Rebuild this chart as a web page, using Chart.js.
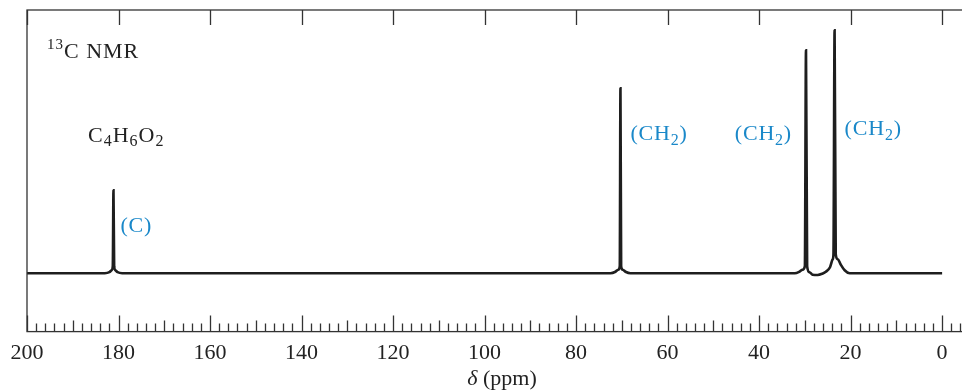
<!DOCTYPE html>
<html>
<head>
<meta charset="utf-8">
<script src="https://cdn.jsdelivr.net/npm/chart.js@4.4.1/dist/chart.umd.min.js"></script>
<style>
  html, body { margin: 0; padding: 0; background: #fff; overflow: hidden; }
  #wrap { width: 975px; height: 391px; }
</style>
</head>
<body>
<div id="wrap"><canvas id="nmr" width="975" height="391"></canvas></div>
<script>
// chemical shift (ppm) and intensity
const shifts = [200, 183.0, 182.0, 181.5, 181.25, 181.1, 180.95, 180.7, 180.2, 179.2,
  72.5, 71.4, 70.8, 70.45, 70.3, 70.15, 69.8, 69.2, 68.1,
  32.2, 31.2, 30.5, 30.0, 29.75, 29.5, 29.0, 28.3, 27.2, 26.2, 25.4, 24.5, 23.9, 23.75, 23.5,
  23.25, 22.8, 22.2, 21.3, 20.2, 0];
const intensity = [0, 0, 1, 3, 7, 83, 7, 3, 1, 0,
  0, 1.5, 3.5, 7, 185, 7, 3.5, 1.5, 0,
  0, 1.5, 3.5, 7, 223, 7, 1, -1.5, -1.8, -0.5, 1.5, 6, 14, 19, 243,
  19, 14, 9, 3, 0, 0];

const tickLabels = [200, 180, 160, 140, 120, 100, 80, 60, 40, 20, 0];

// peak labels: text, subscript, peak shift, label height
const peakText = ['(C', '(CH', '(CH', '(CH'];
const peakSub = ['', '2', '2', '2'];
const peakShift = [181.1, 70.3, 29.75, 23.5];
const peakLabelY = [48, 140, 140, 145];

const serif = '"Liberation Serif", "Times New Roman", serif';
const blue = '#1a88c9';

function drawRich(ctx, parts, x, y, align) {
  // parts: [text, size, dy]
  let w = 0;
  parts.forEach(p => { ctx.font = p[1] + 'px ' + serif; w += ctx.measureText(p[0]).width; });
  let cx = align === 'right' ? x - w : x;
  parts.forEach(p => {
    ctx.font = p[1] + 'px ' + serif;
    ctx.fillText(p[0], cx, y + p[2]);
    cx += ctx.measureText(p[0]).width;
  });
}

const decor = {
  id: 'decor',
  afterDraw(chart) {
    const ctx = chart.ctx;
    const a = chart.chartArea;
    const xs = chart.scales.x;
    const ys = chart.scales.y;
    ctx.save();
    ctx.strokeStyle = '#333';
    ctx.lineWidth = 1.3;
    ctx.strokeRect(a.left, a.top, a.right - a.left + 20, a.bottom - a.top);

    // tick marks, inside the frame
    ctx.beginPath();
    for (let v = -4; v <= 200; v += 2) {
      const px = Math.round(xs.getPixelForValue(v)) + 0.5;
      let len = 8;
      if (v % 20 === 0) len = 16; else if (v % 10 === 0) len = 11;
      ctx.moveTo(px, a.bottom);
      ctx.lineTo(px, a.bottom - len);
    }
    tickLabels.forEach(v => {
      const px = Math.round(xs.getPixelForValue(v)) + 0.5;
      ctx.moveTo(px, a.top);
      ctx.lineTo(px, a.top + 15);
    });
    ctx.stroke();

    ctx.fillStyle = '#222';
    ctx.textBaseline = 'alphabetic';
    ctx.letterSpacing = '1px';
    drawRich(ctx, [['13', 15, -9], ['C NMR', 22, 0]], 47, 58);
    drawRich(ctx, [['C', 22, 0], ['4', 16, 4], ['H', 22, 0], ['6', 16, 4], ['O', 22, 0], ['2', 16, 4]], 88, 142);

    ctx.letterSpacing = '0px';
    ctx.textAlign = 'left';
    const ax = 502;
    ctx.font = 'italic 22px ' + serif;
    const dw = ctx.measureText('δ ').width;
    ctx.font = '22px ' + serif;
    const pw = ctx.measureText('(ppm)').width;
    ctx.font = 'italic 22px ' + serif;
    ctx.fillText('δ ', ax - (dw + pw) / 2, 385);
    ctx.font = '22px ' + serif;
    ctx.fillText('(ppm)', ax - (dw + pw) / 2 + dw, 385);

    ctx.fillStyle = blue;
    ctx.letterSpacing = '0.8px';
    peakText.forEach((t, i) => {
      const px = xs.getPixelForValue(peakShift[i]);
      const py = ys.getPixelForValue(peakLabelY[i]) + 7;
      const parts = [[t, 22, 0]];
      if (peakSub[i]) parts.push([peakSub[i], 16, 5]);
      parts.push([')', 22, 0]);
      if (i === 2) drawRich(ctx, parts, px - 14, py, 'right');
      else drawRich(ctx, parts, px + (i === 0 ? 7 : 10), py, 'left');
    });
    ctx.restore();
  }
};

new Chart(document.getElementById('nmr'), {
  type: 'line',
  data: {
    datasets: [{
      data: shifts.map((s, i) => ({ x: s, y: intensity[i] })),
      borderColor: '#1e1e1e',
      borderWidth: 2.6,
      pointRadius: 0,
      cubicInterpolationMode: 'monotone',
      fill: false
    }]
  },
  options: {
    responsive: false,
    animation: false,
    devicePixelRatio: 1,
    layout: { padding: { left: 27, top: 10, right: 10, bottom: 17 } },
    plugins: { legend: { display: false }, tooltip: { enabled: false } },
    scales: {
      x: {
        type: 'linear',
        reverse: true,
        min: -5,
        max: 200,
        afterBuildTicks: scale => { scale.ticks = tickLabels.map(v => ({ value: v })); },
        grid: { display: false, drawTicks: false, tickLength: 0 },
        border: { display: false },
        ticks: {
          autoSkip: false,
          maxRotation: 0,
          padding: 8,
          color: '#222',
          font: { family: serif, size: 22 }
        }
      },
      y: {
        display: false,
        min: -58.4,
        max: 263.3
      }
    }
  },
  plugins: [decor]
});
</script>
</body>
</html>
